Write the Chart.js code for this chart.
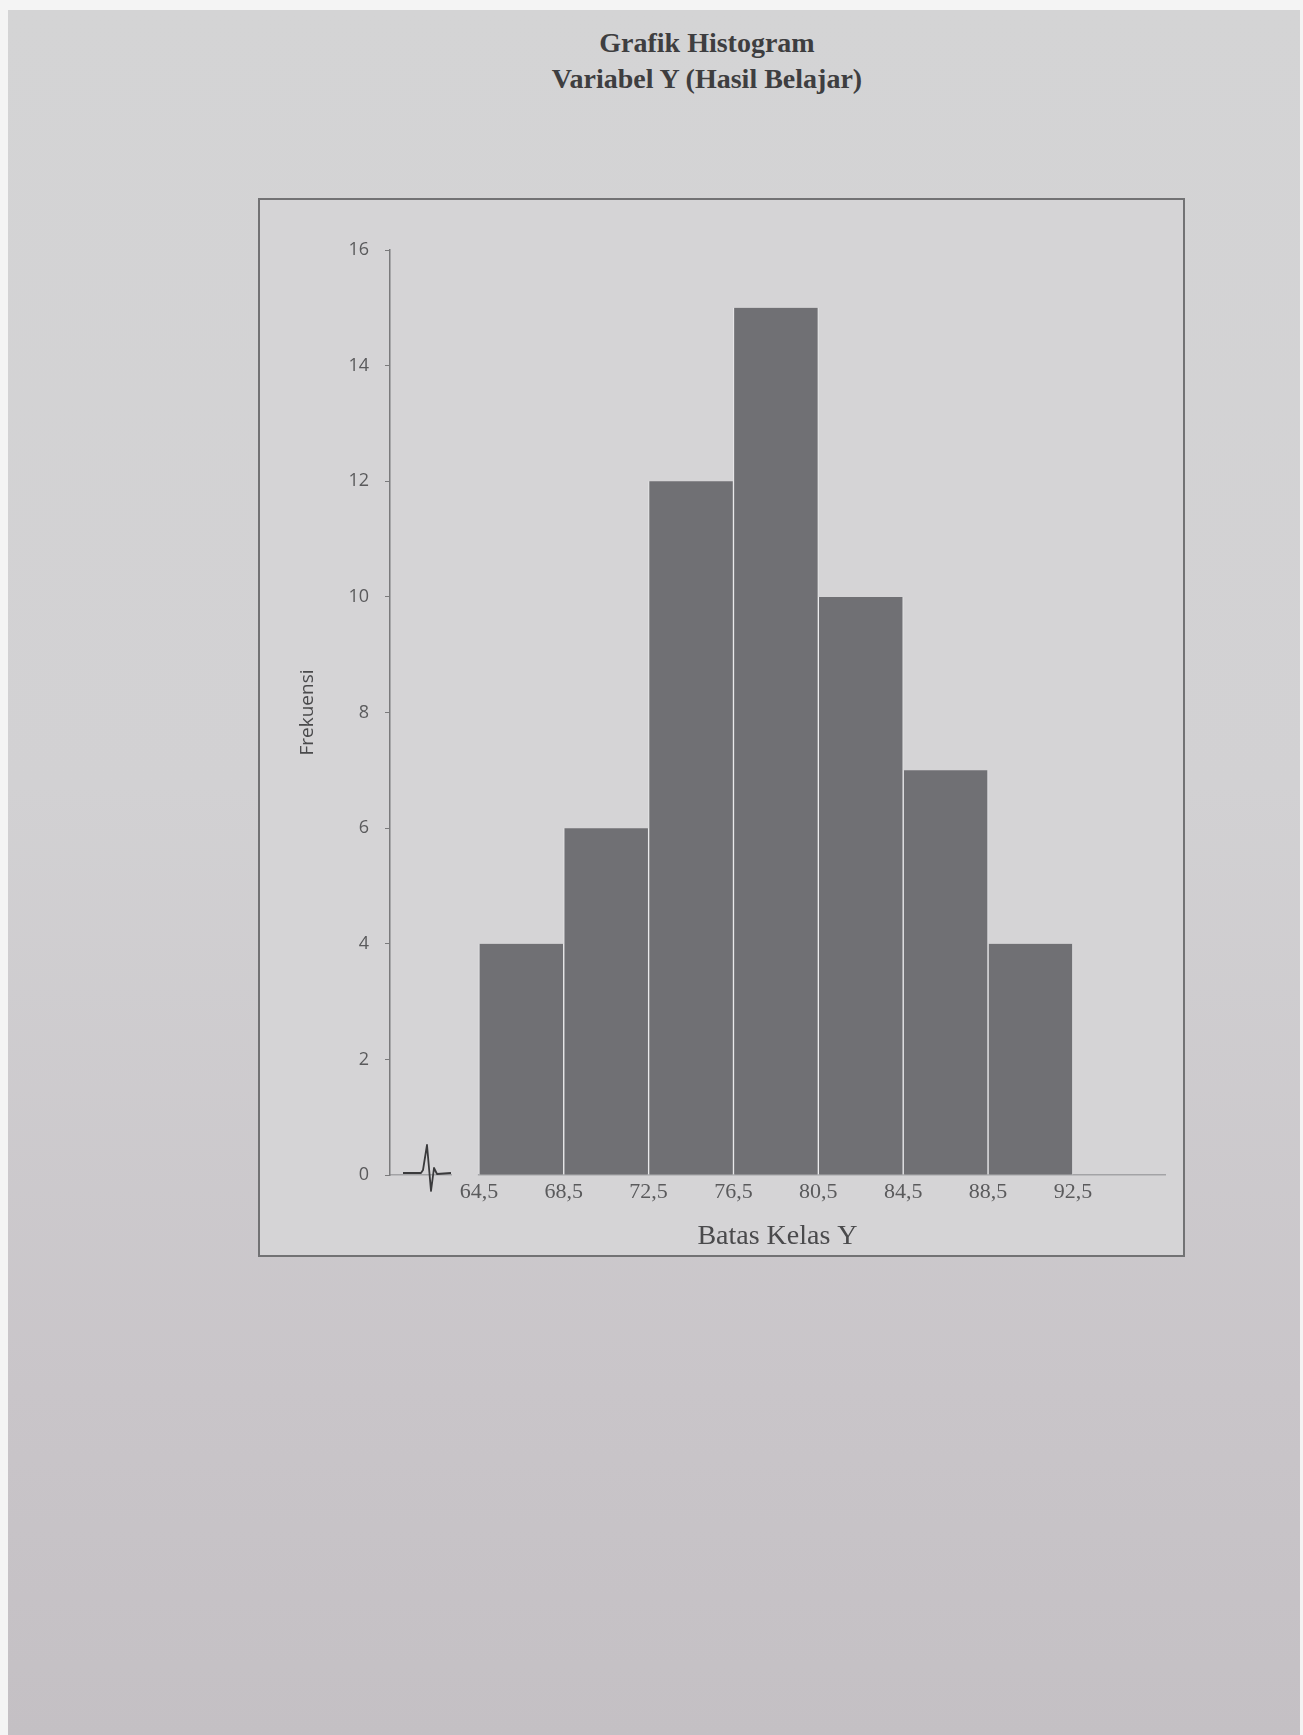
<!DOCTYPE html>
<html>
<head>
<meta charset="utf-8">
<script src="https://cdn.jsdelivr.net/npm/chart.js@4.4.1/dist/chart.umd.min.js"></script>
<style>
  html, body { margin: 0; padding: 0; background: #f4f4f4; }
  body { width: 1303px; height: 1735px; position: relative; overflow: hidden; }
  .sheet {
    position: absolute; left: 8px; top: 10px; width: 1292px; height: 1725px;
    background: linear-gradient(180deg, #d4d4d5 0%, #d2d1d3 45%, #c9c5c9 80%, #c4c0c4 100%);
  }
  .heading {
    position: absolute; left: 407px; top: 25px; width: 600px;
    text-align: center; font-family: "Liberation Serif", "DejaVu Serif", serif;
    font-weight: bold; font-size: 28px; line-height: 36px; color: #3e3e40;
  }
  .frame {
    position: absolute; left: 258px; top: 198px; width: 923px; height: 1055px;
    border: 2px solid #727274; background: #d5d4d6;
  }
  .frame canvas { position: absolute; left: 0; top: 0; }
</style>
</head>
<body>
<div class="sheet"></div>
<div class="heading">Grafik Histogram<br>Variabel Y (Hasil Belajar)</div>
<div class="frame"><canvas id="hist" width="923" height="1055"></canvas></div>
<script>
// Class boundaries (batas kelas) and frequency per class interval
const classBounds = [64.5, 68.5, 72.5, 76.5, 80.5, 84.5, 88.5, 92.5];
const boundLabels = ['64,5', '68,5', '72,5', '76,5', '80,5', '84,5', '88,5', '92,5'];
const frequencies = [4, 6, 12, 15, 10, 7, 4];
const yTicks = [0, 2, 4, 6, 8, 10, 12, 14, 16];

// One bar per interval, centred between its two boundaries
const histData = frequencies.map((f, i) => ({ x: (classBounds[i] + classBounds[i + 1]) / 2, y: f }));

const BG = '#d5d4d6';

// Axis-break zigzag on the x axis, between the y axis and the first class
const axisBreak = {
  id: 'axisBreak',
  afterDraw(chart) {
    const { ctx, scales: { x, y } } = chart;
    const x0 = x.left;
    const y0 = y.getPixelForValue(0);
    const firstEdge = x.getPixelForValue(classBounds[0]);
    ctx.save();
    ctx.fillStyle = BG;
    ctx.fillRect(x0 + 62, y0 - 3, firstEdge - (x0 + 62) - 1, 6);
    ctx.strokeStyle = '#3a3a3c';
    ctx.lineWidth = 1.8;
    ctx.lineJoin = 'round';
    ctx.beginPath();
    ctx.moveTo(x0 + 13, y0 - 2);
    ctx.lineTo(x0 + 31, y0 - 2);
    ctx.lineTo(x0 + 33, y0 - 5);
    ctx.lineTo(x0 + 37, y0 - 30);
    ctx.lineTo(x0 + 41, y0 + 16);
    ctx.lineTo(x0 + 44, y0 - 7);
    ctx.lineTo(x0 + 47, y0 - 1);
    ctx.lineTo(x0 + 61, y0 - 2);
    ctx.stroke();
    ctx.restore();
  }
};

new Chart(document.getElementById('hist'), {
  type: 'bar',
  data: {
    datasets: [{
      data: histData,
      backgroundColor: '#707074',
      borderColor: '#ececee',
      borderWidth: { left: 1, right: 1, top: 0, bottom: 0 },
      borderSkipped: 'bottom',
      barPercentage: 1.0,
      categoryPercentage: 1.0
    }]
  },
  options: {
    responsive: false,
    devicePixelRatio: 1,
    animation: false,
    layout: { padding: { top: 50, right: 18, left: 0, bottom: 0 } },
    plugins: { legend: { display: false }, tooltip: { enabled: false }, title: { display: false } },
    scales: {
      x: {
        type: 'linear',
        offset: false,
        min: 60.31,
        max: 96.84,
        afterFit(scale) { scale.height = 80; },
        afterBuildTicks(scale) { scale.ticks = classBounds.map(v => ({ value: v })); },
        grid: { display: false, drawTicks: false, offset: false },
        border: { display: true, color: '#a3a3a6', width: 1.5 },
        ticks: {
          autoSkip: false,
          maxRotation: 0,
          padding: 4,
          color: '#5a5a5c',
          font: { family: '"Liberation Serif", "DejaVu Serif", serif', size: 22 },
          callback(value) {
            const i = classBounds.indexOf(value);
            return i >= 0 ? boundLabels[i] : '';
          }
        },
        title: {
          display: true,
          text: 'Batas Kelas Y',
          color: '#4a4a4c',
          font: { family: '"Liberation Serif", "DejaVu Serif", serif', size: 28 },
          padding: { top: 0, bottom: 2 }
        }
      },
      y: {
        min: 0,
        max: 16,
        afterFit(scale) { scale.width = 130; },
        afterBuildTicks(scale) { scale.ticks = yTicks.map(v => ({ value: v })); },
        grid: { display: true, drawOnChartArea: false, drawTicks: true, tickLength: 5, color: '#7a7a7c' },
        border: { display: true, color: '#7a7a7c', width: 1.5 },
        ticks: {
          padding: 16,
          color: '#5a5a5c',
          font: { family: '"Open Sans", "Noto Sans", sans-serif', size: 18 }
        },
        title: {
          display: true,
          text: 'Frekuensi',
          color: '#4a4a4c',
          font: { family: '"Open Sans", "Noto Sans", sans-serif', size: 19 },
          padding: { top: 36, bottom: 0 }
        }
      }
    }
  },
  plugins: [axisBreak]
});
</script>
</body>
</html>
